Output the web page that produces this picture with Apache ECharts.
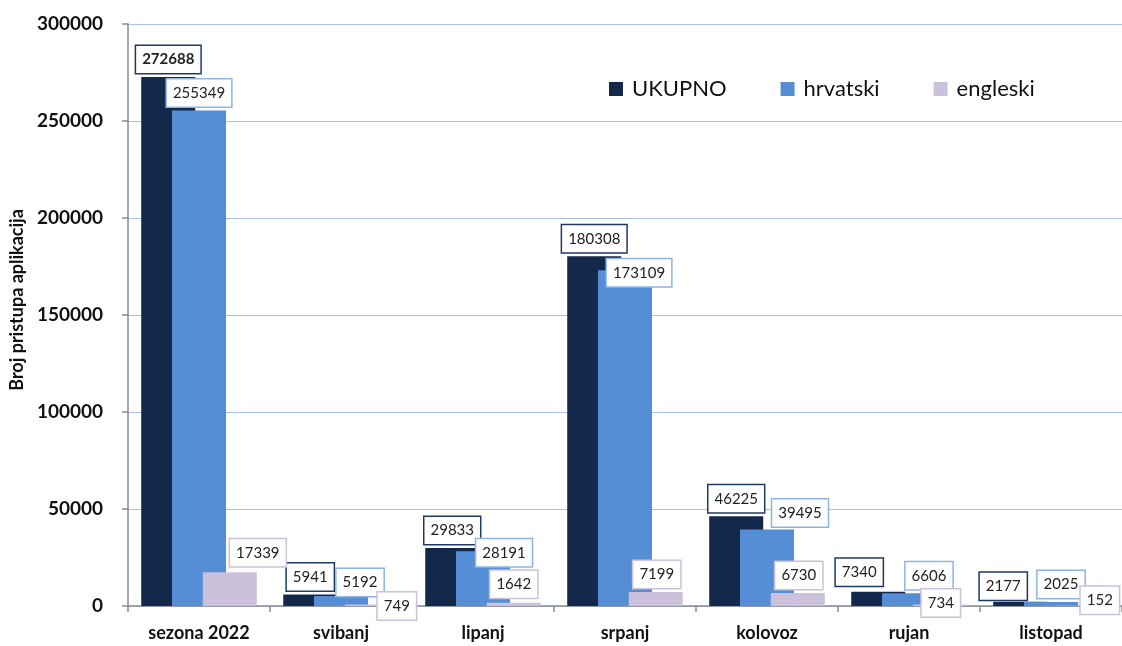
<!DOCTYPE html>
<html>
<head>
<meta charset="utf-8">
<script src="https://cdn.jsdelivr.net/npm/echarts@6/dist/echarts.min.js"></script>
<style>
html,body{margin:0;padding:0;background:#fff;}
#chart{width:1122px;height:646px;}
</style>
</head>
<body>
<div id="chart"></div>
<script>
const categories = ['sezona 2022', 'svibanj', 'lipanj', 'srpanj', 'kolovoz', 'rujan', 'listopad'];
const seriesNames = ['UKUPNO', 'hrvatski', 'engleski'];
const ukupno = [272688, 5941, 29833, 180308, 46225, 7340, 2177];
const hrvatski = [255349, 5192, 28191, 173109, 39495, 6606, 2025];
const engleski = [17339, 749, 1642, 7199, 6730, 734, 152];
const yTicks = [0, 50000, 100000, 150000, 200000, 250000, 300000];

// label nudges (style only): [dx, dy] per category
const nudgeUkupno = [[0,0],[0,0],[0,0],[0,0],[0,0],[-19,-2],[-17,2]];
const nudgeHrvatski = [[0,0],[19,4],[21,19],[14,20],[33,1],[20,0],[10,0]];
const nudgeEngleski = [[28,-2],[25,19],[0,-1],[1,0],[1,0],[1,16],[18,12]];

const colors = ['#13284a', '#558ed5', '#ccc1da'];
const borderColors = ['#1f3864', '#8eb4e3', '#ccc1da'];
const FONT = 'Lato, "Open Sans", sans-serif';

function makeSeries(name, values, nudges, idx) {
  return {
    name: name,
    type: 'bar',
    barWidth: 54,
    barGap: '-43%',
    itemStyle: { color: colors[idx] },
    label: {
      show: true,
      position: 'top',
      distance: 4,
      fontFamily: FONT,
      fontSize: 15,
      color: '#222',
      backgroundColor: '#fff',
      borderColor: borderColors[idx],
      borderWidth: 1.5,
      padding: [5, 6, 5, 6],
      lineHeight: 17
    },
    data: values.map((v, i) => ({
      value: v,
      label: {
        offset: nudges[i],
        fontWeight: (idx === 0 && i === 0) ? 'bold' : 'normal'
      }
    })),
    z: 2 + idx
  };
}

const chart = echarts.init(document.getElementById('chart'));
chart.setOption({
  backgroundColor: '#fff',
  animation: false,
  textStyle: { fontFamily: FONT },
  grid: { left: 121, right: 0, top: 24, bottom: 40, containLabel: false },
  legend: {
    data: seriesNames,
    left: 604,
    top: 73,
    itemWidth: 14,
    itemHeight: 14,
    itemGap: 54,
    icon: 'rect',
    textStyle: { fontFamily: FONT, fontSize: 22, color: '#111', padding: [0, 0, 0, 4] }
  },
  xAxis: {
    type: 'category',
    data: categories,
    axisLine: { lineStyle: { color: '#8c8c8c', width: 1.5 } },
    axisTick: { show: true, length: 6, lineStyle: { color: '#8c8c8c', width: 1.5 } },
    axisLabel: { fontFamily: FONT, fontSize: 18, fontWeight: 'bold', color: '#111', margin: 18 }
  },
  yAxis: {
    type: 'value',
    min: yTicks[0],
    max: yTicks[yTicks.length - 1],
    interval: yTicks[1] - yTicks[0],
    name: 'Broj pristupa aplikacija',
    nameLocation: 'middle',
    nameRotate: 90,
    nameGap: 100,
    nameTextStyle: { fontFamily: FONT, fontSize: 18, fontWeight: 'bold', color: '#111', padding: [0, 0, 0, 30] },
    axisLine: { show: true, lineStyle: { color: '#8c8c8c', width: 1.5 } },
    axisTick: { show: true, length: 6, lineStyle: { color: '#8c8c8c', width: 1.5 } },
    axisLabel: {
      fontFamily: FONT, fontSize: 19, fontWeight: 'bold', color: '#111', margin: 25,
      formatter: v => String(v)
    },
    splitLine: { show: true, lineStyle: { color: '#a9c1e6', width: 1 } }
  },
  series: [
    makeSeries(seriesNames[0], ukupno, nudgeUkupno, 0),
    makeSeries(seriesNames[1], hrvatski, nudgeHrvatski, 1),
    makeSeries(seriesNames[2], engleski, nudgeEngleski, 2)
  ]
});
</script>
</body>
</html>
